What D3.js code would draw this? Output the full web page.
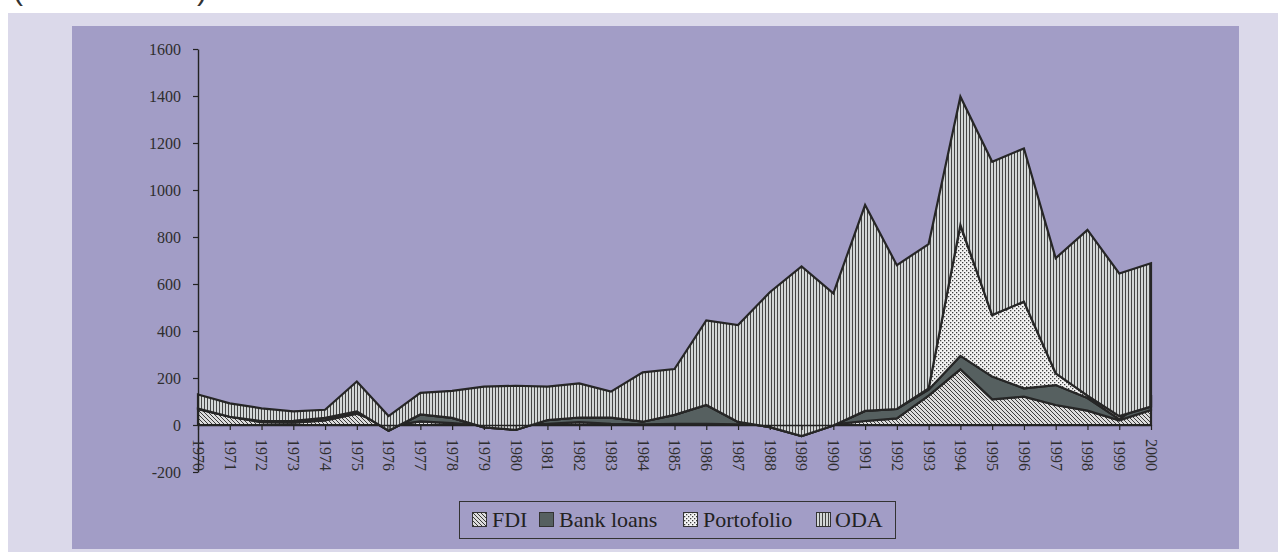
<!DOCTYPE html>
<html>
<head>
<meta charset="utf-8">
<script src="https://cdn.jsdelivr.net/npm/d3@7"></script>
<style>
  html, body { margin: 0; padding: 0; background: #ffffff; }
  svg { display: block; }
</style>
</head>
<body>
<svg id="chart" width="1278" height="552"></svg>
<script>
// Capital flows by type, 1970-2000
const years = d3.range(1970, 2001);
const fdi       = [68, 35, 12, 10, 20, 48, -4, 15, 8, -2, -3, 5, 12, 5, 3, 5, 5, 3, 2, 2, 3, 17, 28, 125, 237, 109, 121, 85, 61, 20, 64];
const bankLoans = [2, 0, 5, 8, 10, 10, -20, 30, 22, -8, -18, 16, 20, 26, 11, 38, 80, 10, -11, -49, -5, 43, 40, 25, 57, 97, 35, 85, 54, 5, 56];
const portfolio = [0, 0, 0, 0, 0, 0, 0, 0, 0, 0, 0, 0, 0, 0, 0, 0, 0, 0, 0, 0, 0, 0, 0, 6, 557, 262, 369, 50, 10, 13, -42];
const oda       = [60, 57, 54, 40, 35, 127, 62, 92, 115, 173, 188, 142, 145, 111, 210, 195, 360, 412, 574, 722, 562, 876, 612, 614, 546, 652, 652, 490, 705, 607, 610];
const seriesNames = ["FDI", "Bank loans", "Portofolio", "ODA"];
const yTicks = [-200, 0, 200, 400, 600, 800, 1000, 1200, 1400, 1600];

const svg = d3.select("#chart");

// panels
svg.append("rect").attr("x", 8).attr("y", 13).attr("width", 1270).attr("height", 539).attr("fill", "#dbd9ea");
svg.append("rect").attr("x", 72).attr("y", 26).attr("width", 1167).attr("height", 523).attr("fill", "#a29dc6");

// unit caption along the top edge
svg.append("text")
  .attr("x", 13).attr("y", 0)
  .attr("textLength", 194).attr("lengthAdjust", "spacing")
  .style("font-family", "'Liberation Sans', Arial, sans-serif")
  .style("font-size", "30px").attr("fill", "#333")
  .text("(in millions of US dollars)");

// fill patterns
const defs = svg.append("defs");
const pFdi = defs.append("pattern").attr("id", "pat-fdi").attr("patternUnits", "userSpaceOnUse").attr("width", 4).attr("height", 4);
pFdi.append("rect").attr("width", 4).attr("height", 4).attr("fill", "#dcdcdc");
pFdi.append("path").attr("d", "M-1,-1 L5,5 M-1,3 L1,5 M3,-1 L5,1").attr("stroke", "#3a3a3a").attr("stroke-width", 1);

const pPort = defs.append("pattern").attr("id", "pat-port").attr("patternUnits", "userSpaceOnUse").attr("width", 4).attr("height", 4);
pPort.append("rect").attr("width", 4).attr("height", 4).attr("fill", "#f4f4f4");
pPort.append("rect").attr("x", 0).attr("y", 0).attr("width", 1.3).attr("height", 1.3).attr("fill", "#3e3e3e");
pPort.append("rect").attr("x", 2).attr("y", 2).attr("width", 1.3).attr("height", 1.3).attr("fill", "#3e3e3e");

const pOda = defs.append("pattern").attr("id", "pat-oda").attr("patternUnits", "userSpaceOnUse").attr("width", 3).attr("height", 3);
pOda.append("rect").attr("width", 3).attr("height", 3).attr("fill", "#d3d7d7");
pOda.append("rect").attr("x", 0).attr("width", 1).attr("height", 3).attr("fill", "#454545");

const fills = ["url(#pat-fdi)", "#566060", "url(#pat-port)", "url(#pat-oda)"];

// scales
const x = d3.scaleLinear().domain([1970, 2000]).range([198, 1151]);
const y = d3.scaleLinear().domain([-200, 1600]).range([472, 49]);

// cumulative stacking, drawn in order so later series cover earlier ones
const table = years.map((yr, i) => ({ year: yr, "FDI": fdi[i], "Bank loans": bankLoans[i], "Portofolio": portfolio[i], "ODA": oda[i] }));
const stacked = d3.stack().keys(seriesNames).offset(d3.stackOffsetNone)(table);

const area = d3.area()
  .x(d => x(d.data.year))
  .y0(d => y(d[0]))
  .y1(d => y(d[1]));

svg.append("g").selectAll("path")
  .data(stacked)
  .join("path")
  .attr("d", area)
  .attr("fill", (d, i) => fills[i])
  .attr("stroke", "#262626")
  .attr("stroke-width", 2.2)
  .attr("stroke-linejoin", "miter");

// axes
const axisFont = "'Liberation Serif', 'Times New Roman', serif";
const plain = d => String(d);
const gy = svg.append("g").attr("transform", `translate(${x(1970)},0)`)
  .call(d3.axisLeft(y).tickValues(yTicks).tickSize(5).tickSizeOuter(0).tickPadding(12).tickFormat(plain));
const gx = svg.append("g").attr("transform", `translate(0,${y(0)})`)
  .call(d3.axisBottom(x).tickValues(years).tickSize(5).tickSizeOuter(0).tickFormat(plain));

[gy, gx].forEach(g => {
  g.select(".domain").attr("stroke", "#222").attr("stroke-width", 1.4);
  g.selectAll(".tick line").attr("stroke", "#222").attr("stroke-width", 1.2);
  g.selectAll("text").attr("fill", "#2e2e2e").style("font-family", axisFont).style("font-size", "16px");
});

gx.selectAll(".tick text")
  .attr("x", 0).attr("y", 0).attr("dy", "0.35em")
  .attr("transform", "translate(0,14) rotate(90)")
  .style("text-anchor", "start");

// legend
const legend = svg.append("g");
legend.append("rect").attr("x", 459.5).attr("y", 501.5).attr("width", 436).attr("height", 37)
  .attr("fill", "none").attr("stroke", "#333").attr("stroke-width", 1);
const swatchX = [472, 539, 683, 816];
const labelX = [492, 559, 703, 835];
seriesNames.forEach((name, i) => {
  legend.append("rect").attr("x", swatchX[i] + 0.5).attr("y", 512.5).attr("width", 14).attr("height", 14)
    .attr("fill", fills[i]).attr("stroke", "#333").attr("stroke-width", 1);
  legend.append("text").attr("x", labelX[i]).attr("y", 527)
    .style("font-family", axisFont).style("font-size", "22px").attr("fill", "#222")
    .text(name);
});
</script>
</body>
</html>
